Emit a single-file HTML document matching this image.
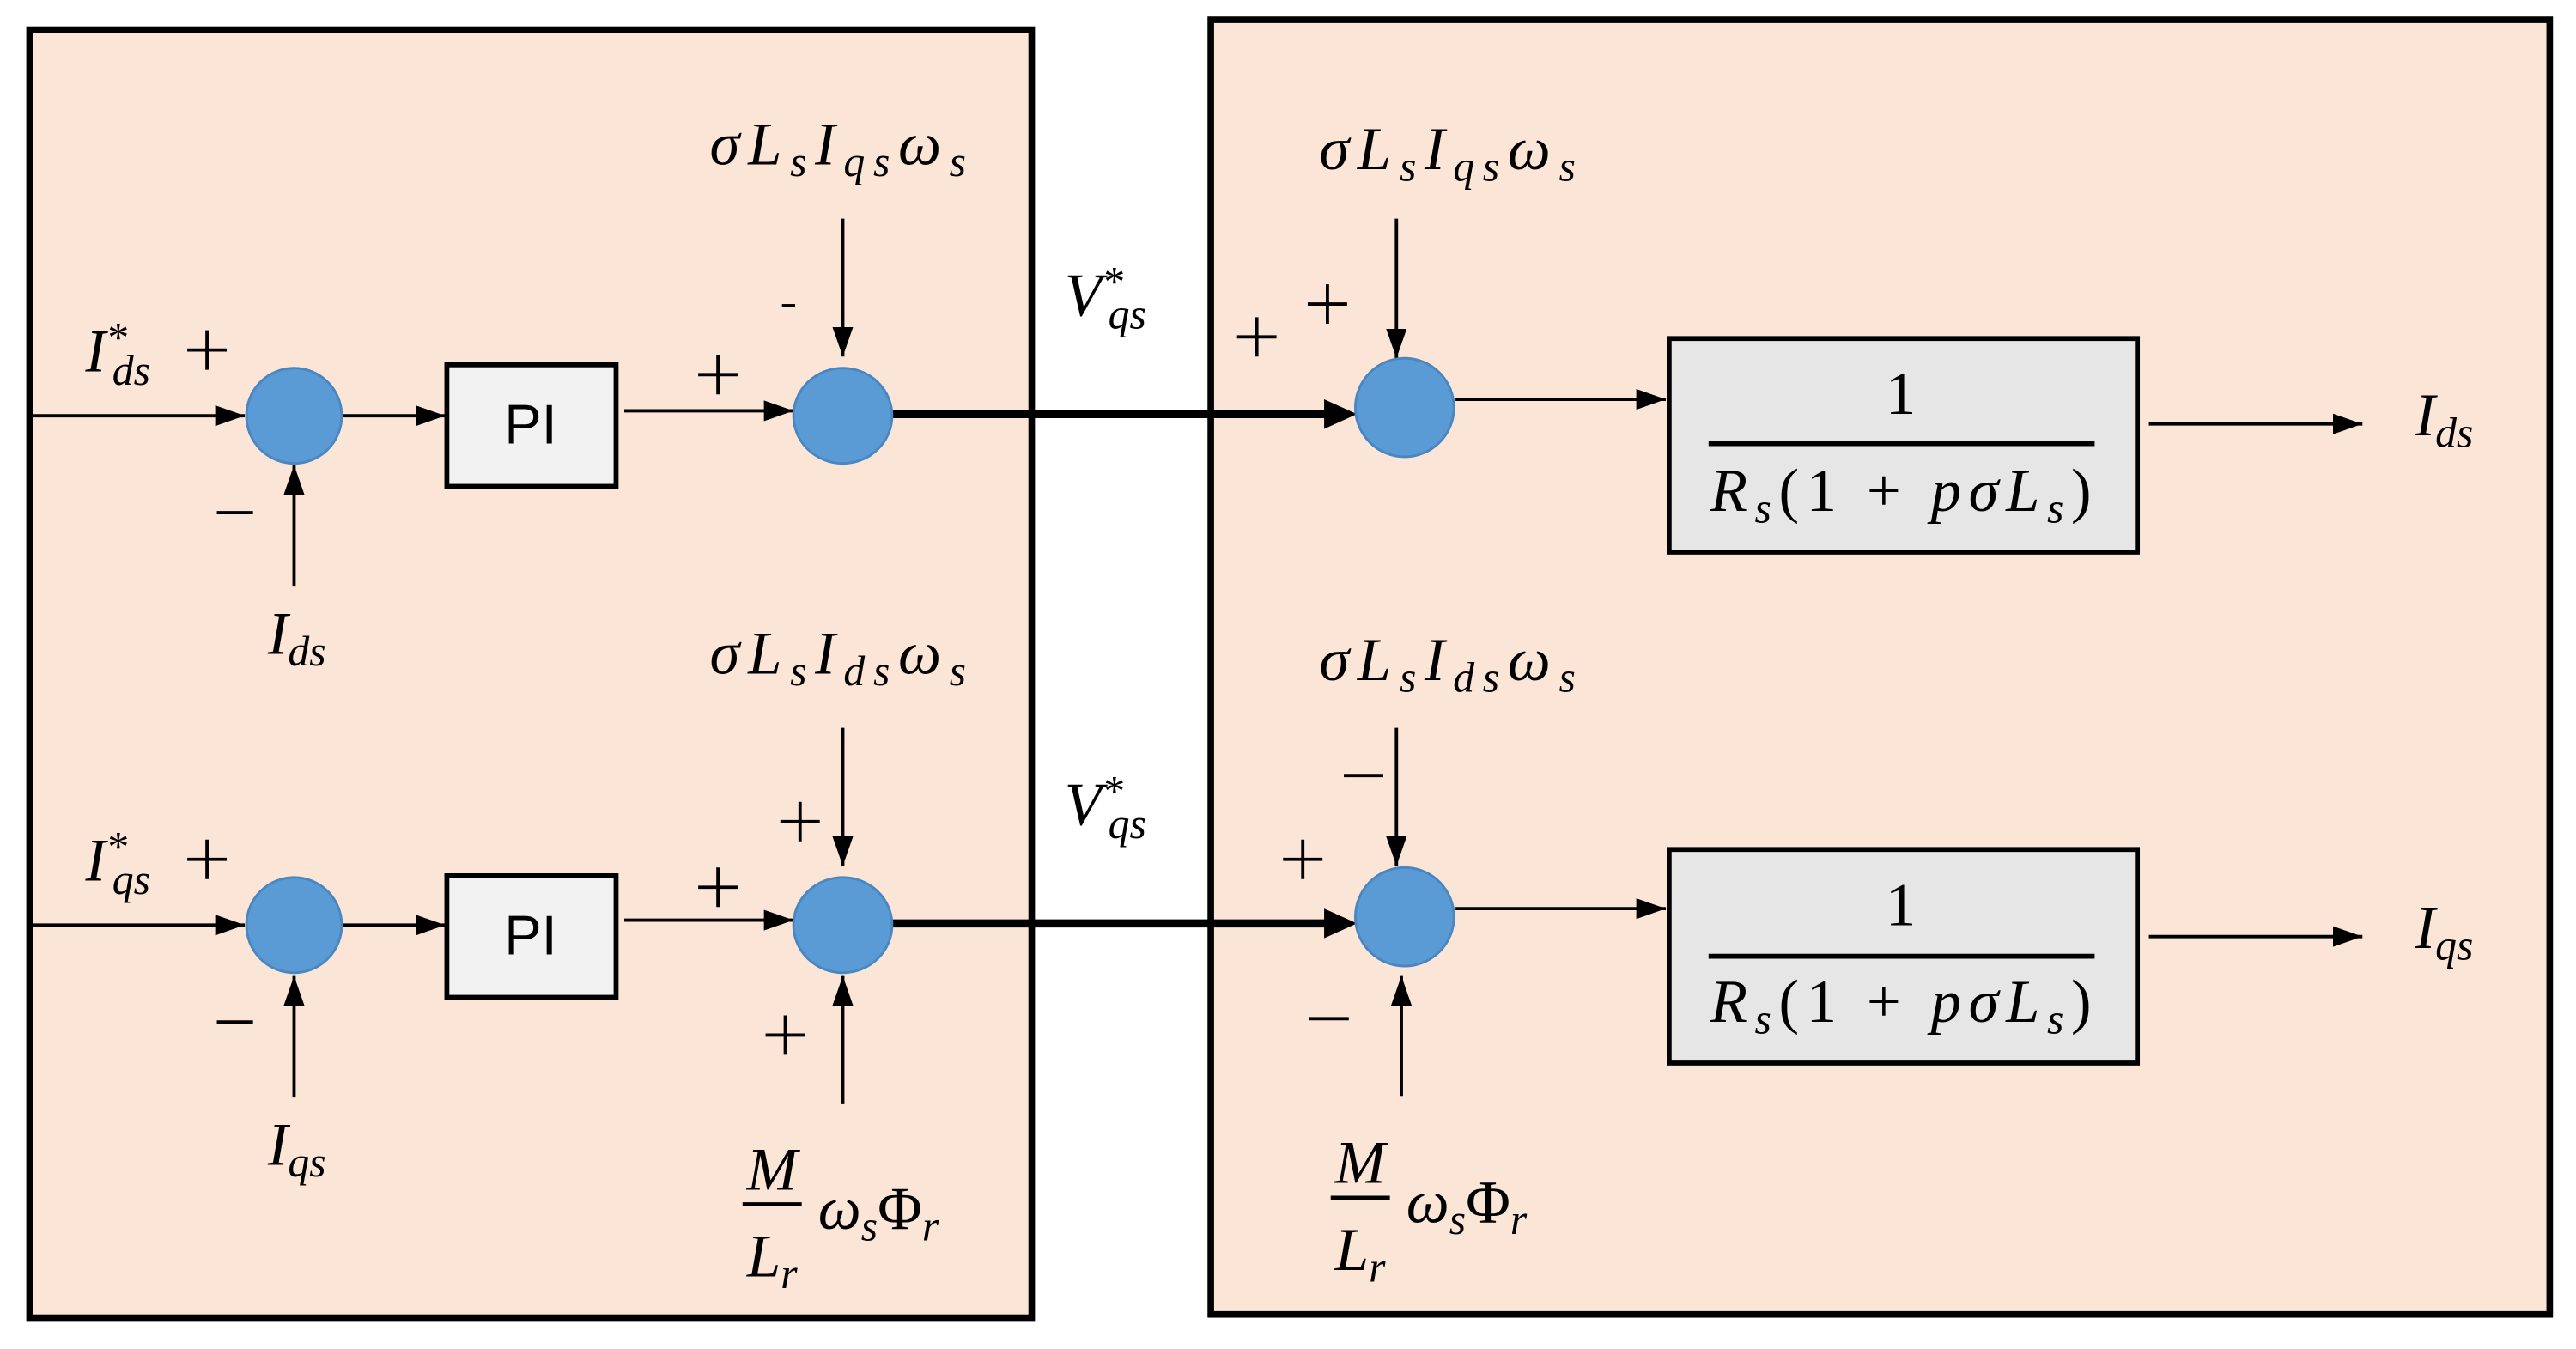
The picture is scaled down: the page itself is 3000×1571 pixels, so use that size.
<!DOCTYPE html>
<html><head><meta charset="utf-8"><style>
html,body{margin:0;padding:0;background:#fff}
svg{display:block}
.m{font-family:"Liberation Serif",serif;font-style:italic;font-size:37px;fill:#000}
.s{font-size:26px}
.r{font-family:"Liberation Serif",serif;font-style:normal;font-size:37px}
.sg{font-family:"Liberation Sans",sans-serif;font-size:34px;fill:#000}
</style></head><body>
<svg width="3000" height="1571" viewBox="0 0 1568 821" xmlns="http://www.w3.org/2000/svg">
<defs>
<marker id="b" viewBox="0 0 10 10" refX="10" refY="5" markerWidth="18" markerHeight="18" markerUnits="userSpaceOnUse" orient="auto"><path d="M0,1.5L10,5L0,8.5z" fill="#000"/></marker>
</defs>
<rect width="1568" height="821" fill="#fff"/>
<rect x="18" y="18" width="610" height="784" fill="#fbe5d6" stroke="#000" stroke-width="4"/>
<rect x="737" y="12" width="815" height="788" fill="#fbe5d6" stroke="#000" stroke-width="4"/>

<g stroke="#000" stroke-width="2" fill="none">
<line x1="20" y1="253" x2="149" y2="253" marker-end="url(#b)"/>
<line x1="208" y1="253" x2="271" y2="253" marker-end="url(#b)"/>
<line x1="380" y1="250" x2="483" y2="250" marker-end="url(#b)"/>
<line x1="513" y1="133" x2="513" y2="217" marker-end="url(#b)"/>
<line x1="179" y1="357" x2="179" y2="283" marker-end="url(#b)"/>
<line x1="886" y1="243" x2="1014" y2="243" marker-end="url(#b)"/>
<line x1="850" y1="133" x2="850" y2="218" marker-end="url(#b)"/>
<line x1="1308" y1="258" x2="1438" y2="258" marker-end="url(#b)"/>
<line x1="20" y1="563" x2="149" y2="563" marker-end="url(#b)"/>
<line x1="208" y1="563" x2="271" y2="563" marker-end="url(#b)"/>
<line x1="380" y1="560" x2="483" y2="560" marker-end="url(#b)"/>
<line x1="513" y1="443" x2="513" y2="527" marker-end="url(#b)"/>
<line x1="513" y1="672" x2="513" y2="594" marker-end="url(#b)"/>
<line x1="179" y1="668" x2="179" y2="594" marker-end="url(#b)"/>
<line x1="886" y1="553" x2="1014" y2="553" marker-end="url(#b)"/>
<line x1="850" y1="443" x2="850" y2="527" marker-end="url(#b)"/>
<line x1="853" y1="667" x2="853" y2="594" marker-end="url(#b)"/>
<line x1="1308" y1="570" x2="1438" y2="570" marker-end="url(#b)"/>
</g>
<g stroke="#000" stroke-width="5" fill="none">
<line x1="540" y1="252" x2="812" y2="252"/>
<line x1="540" y1="562" x2="812" y2="562"/>
</g>
<path d="M806,243L826,252L806,261z M806,553L826,562L806,571z" fill="#000"/>

<g fill="#5b9bd5" stroke="#4a86c0" stroke-width="1.5">
<ellipse cx="179" cy="253" rx="29" ry="29"/>
<ellipse cx="513" cy="253" rx="30" ry="29"/>
<ellipse cx="855" cy="248" rx="30" ry="30"/>
<ellipse cx="179" cy="563" rx="29" ry="29"/>
<ellipse cx="513" cy="563" rx="30" ry="29"/>
<ellipse cx="855" cy="558" rx="30" ry="30"/>
</g>

<g stroke="#000" stroke-width="3">
<rect x="272" y="222" width="103" height="74" fill="#f2f2f2"/>
<rect x="272" y="533" width="103" height="74" fill="#f2f2f2"/>
<rect x="1016" y="206" width="285" height="130" fill="#e6e6e6"/>
<rect x="1016" y="517" width="285" height="130" fill="#e6e6e6"/>
<line x1="1040" y1="270" x2="1275" y2="270"/>
<line x1="1040" y1="582" x2="1275" y2="582"/>
</g>
<text x="323" y="270" class="sg" text-anchor="middle" font-size="28">PI</text>
<text x="323" y="581" class="sg" text-anchor="middle" font-size="28">PI</text>

<text x="1157" y="252" class="m r" text-anchor="middle">1</text>
<text x="1157" y="311" class="m" text-anchor="middle" textLength="232">R<tspan class="s" dy="7">s</tspan><tspan class="r" dy="-7">(1 + </tspan>pσL<tspan class="s" dy="7">s</tspan><tspan class="r" dy="-7">)</tspan></text>
<text x="1157" y="563" class="m r" text-anchor="middle">1</text>
<text x="1157" y="622" class="m" text-anchor="middle" textLength="232">R<tspan class="s" dy="7">s</tspan><tspan class="r" dy="-7">(1 + </tspan>pσL<tspan class="s" dy="7">s</tspan><tspan class="r" dy="-7">)</tspan></text>

<text x="52" y="226" class="m">I<tspan class="s" dy="-12">*</tspan><tspan class="s" dx="-9" dy="20">ds</tspan></text>
<text x="52" y="536" class="m">I<tspan class="s" dy="-12">*</tspan><tspan class="s" dx="-9" dy="20">qs</tspan></text>
<text x="163" y="398" class="m">I<tspan class="s" dy="7">ds</tspan></text>
<text x="163" y="709" class="m">I<tspan class="s" dy="7">qs</tspan></text>
<text x="432" y="100" class="m" textLength="156">σL<tspan class="s" dy="7">s</tspan><tspan dy="-7">I</tspan><tspan class="s" dy="7">qs</tspan><tspan dy="-7">ω</tspan><tspan class="s" dy="7">s</tspan></text>
<text x="432" y="410" class="m" textLength="156">σL<tspan class="s" dy="7">s</tspan><tspan dy="-7">I</tspan><tspan class="s" dy="7">ds</tspan><tspan dy="-7">ω</tspan><tspan class="s" dy="7">s</tspan></text>
<text x="803" y="103" class="m" textLength="156">σL<tspan class="s" dy="7">s</tspan><tspan dy="-7">I</tspan><tspan class="s" dy="7">qs</tspan><tspan dy="-7">ω</tspan><tspan class="s" dy="7">s</tspan></text>
<text x="803" y="414" class="m" textLength="156">σL<tspan class="s" dy="7">s</tspan><tspan dy="-7">I</tspan><tspan class="s" dy="7">ds</tspan><tspan dy="-7">ω</tspan><tspan class="s" dy="7">s</tspan></text>
<text x="648" y="192" class="m">V<tspan class="s" dy="-12">*</tspan><tspan class="s" dx="-9" dy="20">qs</tspan></text>
<text x="648" y="502" class="m">V<tspan class="s" dy="-12">*</tspan><tspan class="s" dx="-9" dy="20">qs</tspan></text>
<text x="1470" y="265" class="m">I<tspan class="s" dy="7">ds</tspan></text>
<text x="1470" y="577" class="m">I<tspan class="s" dy="7">qs</tspan></text>

<g>
<text x="470" y="724" class="m" text-anchor="middle">M</text>
<line x1="452" y1="733" x2="488" y2="733" stroke="#000" stroke-width="2.5"/>
<text x="470" y="777" class="m" text-anchor="middle">L<tspan class="s" dy="7">r</tspan></text>
<text x="498" y="748" class="m">ω<tspan class="s" dy="7">s</tspan><tspan class="r" dy="-7">Φ</tspan><tspan class="s" dy="7">r</tspan></text>
<text x="828" y="720" class="m" text-anchor="middle">M</text>
<line x1="810" y1="729" x2="846" y2="729" stroke="#000" stroke-width="2.5"/>
<text x="828" y="773" class="m" text-anchor="middle">L<tspan class="s" dy="7">r</tspan></text>
<text x="856" y="744" class="m">ω<tspan class="s" dy="7">s</tspan><tspan class="r" dy="-7">Φ</tspan><tspan class="s" dy="7">r</tspan></text>
</g>

<g stroke="#000" stroke-width="2">
<path d="M114,213h24M126,201v24"/>
<path d="M132,312h22"/>
<path d="M425,228h24M437,216v24"/>
<path d="M476,186h8"/>
<path d="M753,205h24M765,193v24"/>
<path d="M796,185h24M808,173v24"/>
<path d="M114,523h24M126,511v24"/>
<path d="M132,622h22"/>
<path d="M425,540h24M437,528v24"/>
<path d="M475,500h24M487,488v24"/>
<path d="M466,630h24M478,618v24"/>
<path d="M818,472h24"/>
<path d="M781,523h24M793,511v24"/>
<path d="M797,620h24"/>
</g>
</svg>
</body></html>
